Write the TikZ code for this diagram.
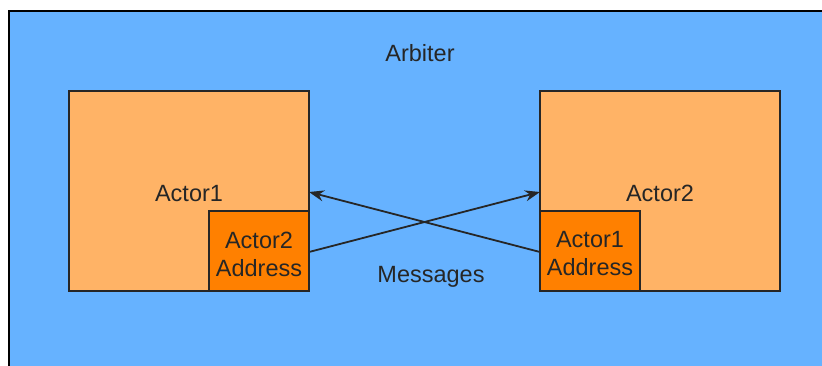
\documentclass[tikz,border=0pt]{standalone}
\usepackage{fontspec}
\setmainfont{Liberation Sans}
\usetikzlibrary{arrows.meta}
\definecolor{bgblue}{HTML}{66B2FF}
\definecolor{lorange}{HTML}{FFB366}
\definecolor{dorange}{HTML}{FF8000}
\begin{document}
\begin{tikzpicture}[x=1pt,y=-1pt,
  box/.style={draw=black!85,line width=1.6pt,fill=lorange},
  addr/.style={draw=black!85,line width=1.6pt,fill=dorange},
  lbl/.style={font=\fontsize{23.5}{28}\selectfont,text=black!85,align=center,inner sep=0pt},
  one/.style={lbl,anchor=base},
  msg/.style={-{Stealth[length=15pt,width=11pt]},line width=1.8pt,black!85}]
\useasboundingbox (0,0) rectangle (822,365);
\fill[white] (0,0) rectangle (822,365);
\draw[fill=bgblue,line width=2pt] (830,375) -- (9,375) -- (9,11) -- (830,11);
\node[one] (arb) at (420,61) {Arbiter};
\draw[box] (69,91) rectangle (309,291);
\coordinate (a1r) at (309,192);
\node[one] (a1) at (189,201) {Actor1};
\draw[addr] (209,211) rectangle (309,291);
\node[lbl] (a2addr) at (259,254) {Actor2\\Address};
\coordinate (a2ar) at (309,252);
\draw[box] (540,91) rectangle (780,291);
\coordinate (a2l) at (540,192);
\node[one] (a2) at (660,201) {Actor2};
\draw[addr] (540,211) rectangle (640,291);
\node[lbl] (a1addr) at (590,254) {Actor1\\Address};
\coordinate (a1al) at (540,252);
\node[one] (msgs) at (431,282) {Messages};
\draw[msg] (a2ar) -- (a2l);
\draw[msg] (a1al) -- (a1r);
\end{tikzpicture}
\end{document}
